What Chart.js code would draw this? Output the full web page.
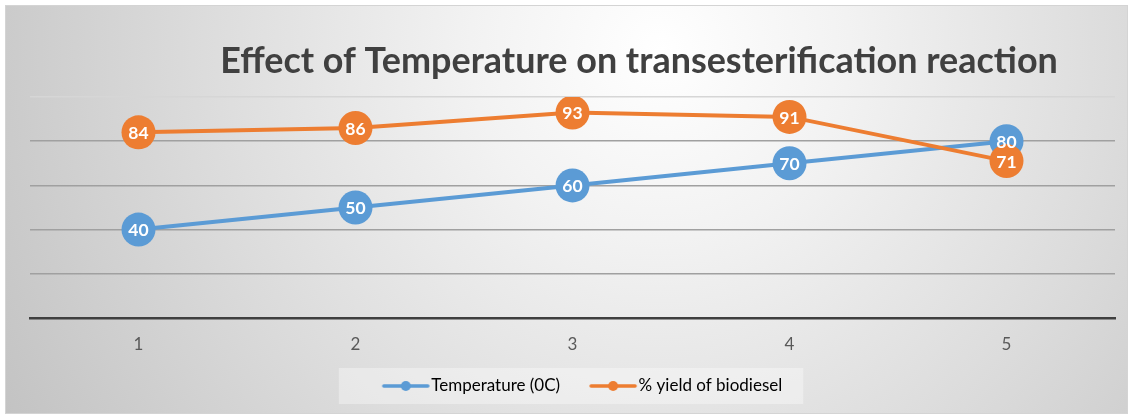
<!DOCTYPE html>
<html>
<head>
<meta charset="utf-8">
<script src="https://cdn.jsdelivr.net/npm/chart.js@4"></script>
<style>
html,body{margin:0;padding:0;background:#ffffff;}
#wrap{width:1133px;height:416px;position:relative;}
</style>
</head>
<body>
<div id="wrap"><canvas id="c" width="1133" height="416"></canvas></div>
<script>
const categories = ['1', '2', '3', '4', '5'];
const temperature = [40, 50, 60, 70, 80];
const yieldBiodiesel = [84, 86, 93, 91, 71];
const seriesNames = ['Temperature (0C)', '% yield of biodiesel'];
const titleText = 'Effect of Temperature on transesterification reaction';

const BLUE = '#5b9bd5';
const ORANGE = '#ed7d31';
const FONT = 'Lato, "Open Sans", "Liberation Sans", sans-serif';

// legend icon: image is wider than its legend box so the line can sit close to the text
function legendIcon(color) {
  const c = document.createElement('canvas');
  c.width = 80; c.height = 12;
  const g = c.getContext('2d');
  g.strokeStyle = color; g.lineWidth = 3.5; g.lineCap = 'round';
  g.beginPath(); g.moveTo(31, 6); g.lineTo(75, 6); g.stroke();
  g.fillStyle = color;
  g.beginPath(); g.arc(53, 6, 5, 0, Math.PI * 2); g.fill();
  return c;
}
const icons = [legendIcon(BLUE), legendIcon(ORANGE)];

const bgPlugin = {
  id: 'bg',
  beforeDraw(chart) {
    const ctx = chart.ctx;
    ctx.save();
    const g = ctx.createRadialGradient(660, 50, 0, 660, 50, 760);
    g.addColorStop(0, '#ffffff');
    g.addColorStop(0.25, '#f2f2f2');
    g.addColorStop(0.6, '#dcdcdc');
    g.addColorStop(1, '#c2c2c2');
    ctx.fillStyle = g;
    ctx.fillRect(5, 5, 1123, 409);
    ctx.strokeStyle = '#d4d4d4';
    ctx.lineWidth = 1;
    ctx.strokeRect(5.5, 5.5, 1122, 408);
    const lg = chart.legend;
    if (lg && lg.legendHitBoxes && lg.legendHitBoxes.length) {
      const hb = lg.legendHitBoxes;
      const x0 = hb[0].left - 24;
      const last = hb[hb.length - 1];
      const x1 = last.left + last.width + 21;
      const yc = hb[0].top + hb[0].height / 2;
      ctx.fillStyle = 'rgba(255,255,255,0.35)';
      ctx.fillRect(x0, yc - 18, x1 - x0, 36);
    }
    ctx.restore();
  },
  afterDraw(chart) {
    const ctx = chart.ctx;
    ctx.save();
    let size = 32;
    ctx.font = 'bold ' + size + 'px ' + FONT;
    const w = ctx.measureText(titleText).width;
    size = size * 838 / w;
    ctx.font = 'bold ' + size.toFixed(2) + 'px ' + FONT;
    ctx.fillStyle = '#404040';
    ctx.textAlign = 'center';
    ctx.textBaseline = 'alphabetic';
    ctx.fillText(titleText, 639, 73);
    ctx.restore();
  }
};

const labelPlugin = {
  id: 'pointLabels',
  afterDatasetsDraw(chart) {
    const ctx = chart.ctx;
    ctx.save();
    ctx.font = 'bold 17.5px ' + FONT;
    ctx.fillStyle = '#ffffff';
    ctx.textAlign = 'center';
    ctx.textBaseline = 'middle';
    [1, 0].forEach(di => {
      const meta = chart.getDatasetMeta(di);
      const data = chart.data.datasets[di].data;
      meta.data.forEach((pt, i) => {
        ctx.fillText(String(data[i]), pt.x, pt.y + 1);
      });
    });
    ctx.restore();
  }
};

new Chart(document.getElementById('c'), {
  type: 'line',
  data: {
    labels: categories,
    datasets: [
      {
        label: seriesNames[0],
        data: temperature,
        borderColor: BLUE,
        backgroundColor: BLUE,
        borderWidth: 4,
        pointRadius: 17,
        pointHoverRadius: 17,
        pointBorderWidth: 0,
        pointBackgroundColor: BLUE,
        tension: 0,
        order: 1
      },
      {
        label: seriesNames[1],
        data: yieldBiodiesel,
        borderColor: ORANGE,
        backgroundColor: ORANGE,
        borderWidth: 4,
        pointRadius: 17,
        pointHoverRadius: 17,
        pointBorderWidth: 0,
        pointBackgroundColor: ORANGE,
        tension: 0,
        order: 0
      }
    ]
  },
  options: {
    responsive: false,
    animation: false,
    devicePixelRatio: 1,
    layout: { padding: { left: 30, right: 18, top: 97, bottom: 11.5 } },
    scales: {
      x: {
        offset: true,
        grid: { display: false, drawTicks: false },
        border: { display: true, color: '#3f3f3f', width: 2.5 },
        ticks: { color: '#595959', padding: 16, font: { family: FONT, size: 17 } },
        afterFit(scale) { scale.height = 49.5; }
      },
      y: {
        min: 0,
        max: 100,
        ticks: { display: false, stepSize: 20 },
        border: { display: false },
        grid: {
          drawTicks: false,
          lineWidth: 1.5,
          color(ctx) { return ctx.tick && ctx.tick.value === 100 ? '#d6d6d6' : '#a0a0a0'; }
        },
        afterFit(scale) { scale.width = 0; }
      }
    },
    plugins: {
      title: { display: false },
      tooltip: { enabled: false },
      legend: {
        display: true,
        position: 'bottom',
        labels: {
          usePointStyle: true,
          pointStyleWidth: 60,
          padding: 10,
          color: '#595959',
          font: { family: FONT, size: 17 },
          generateLabels(chart) {
            return chart.data.datasets.map((ds, i) => ({
              text: ds.label,
              fillStyle: ds.borderColor,
              strokeStyle: ds.borderColor,
              lineWidth: 0,
              pointStyle: icons[i],
              hidden: false,
              datasetIndex: i
            }));
          }
        }
      }
    }
  },
  plugins: [bgPlugin, labelPlugin]
});
</script>
</body>
</html>
